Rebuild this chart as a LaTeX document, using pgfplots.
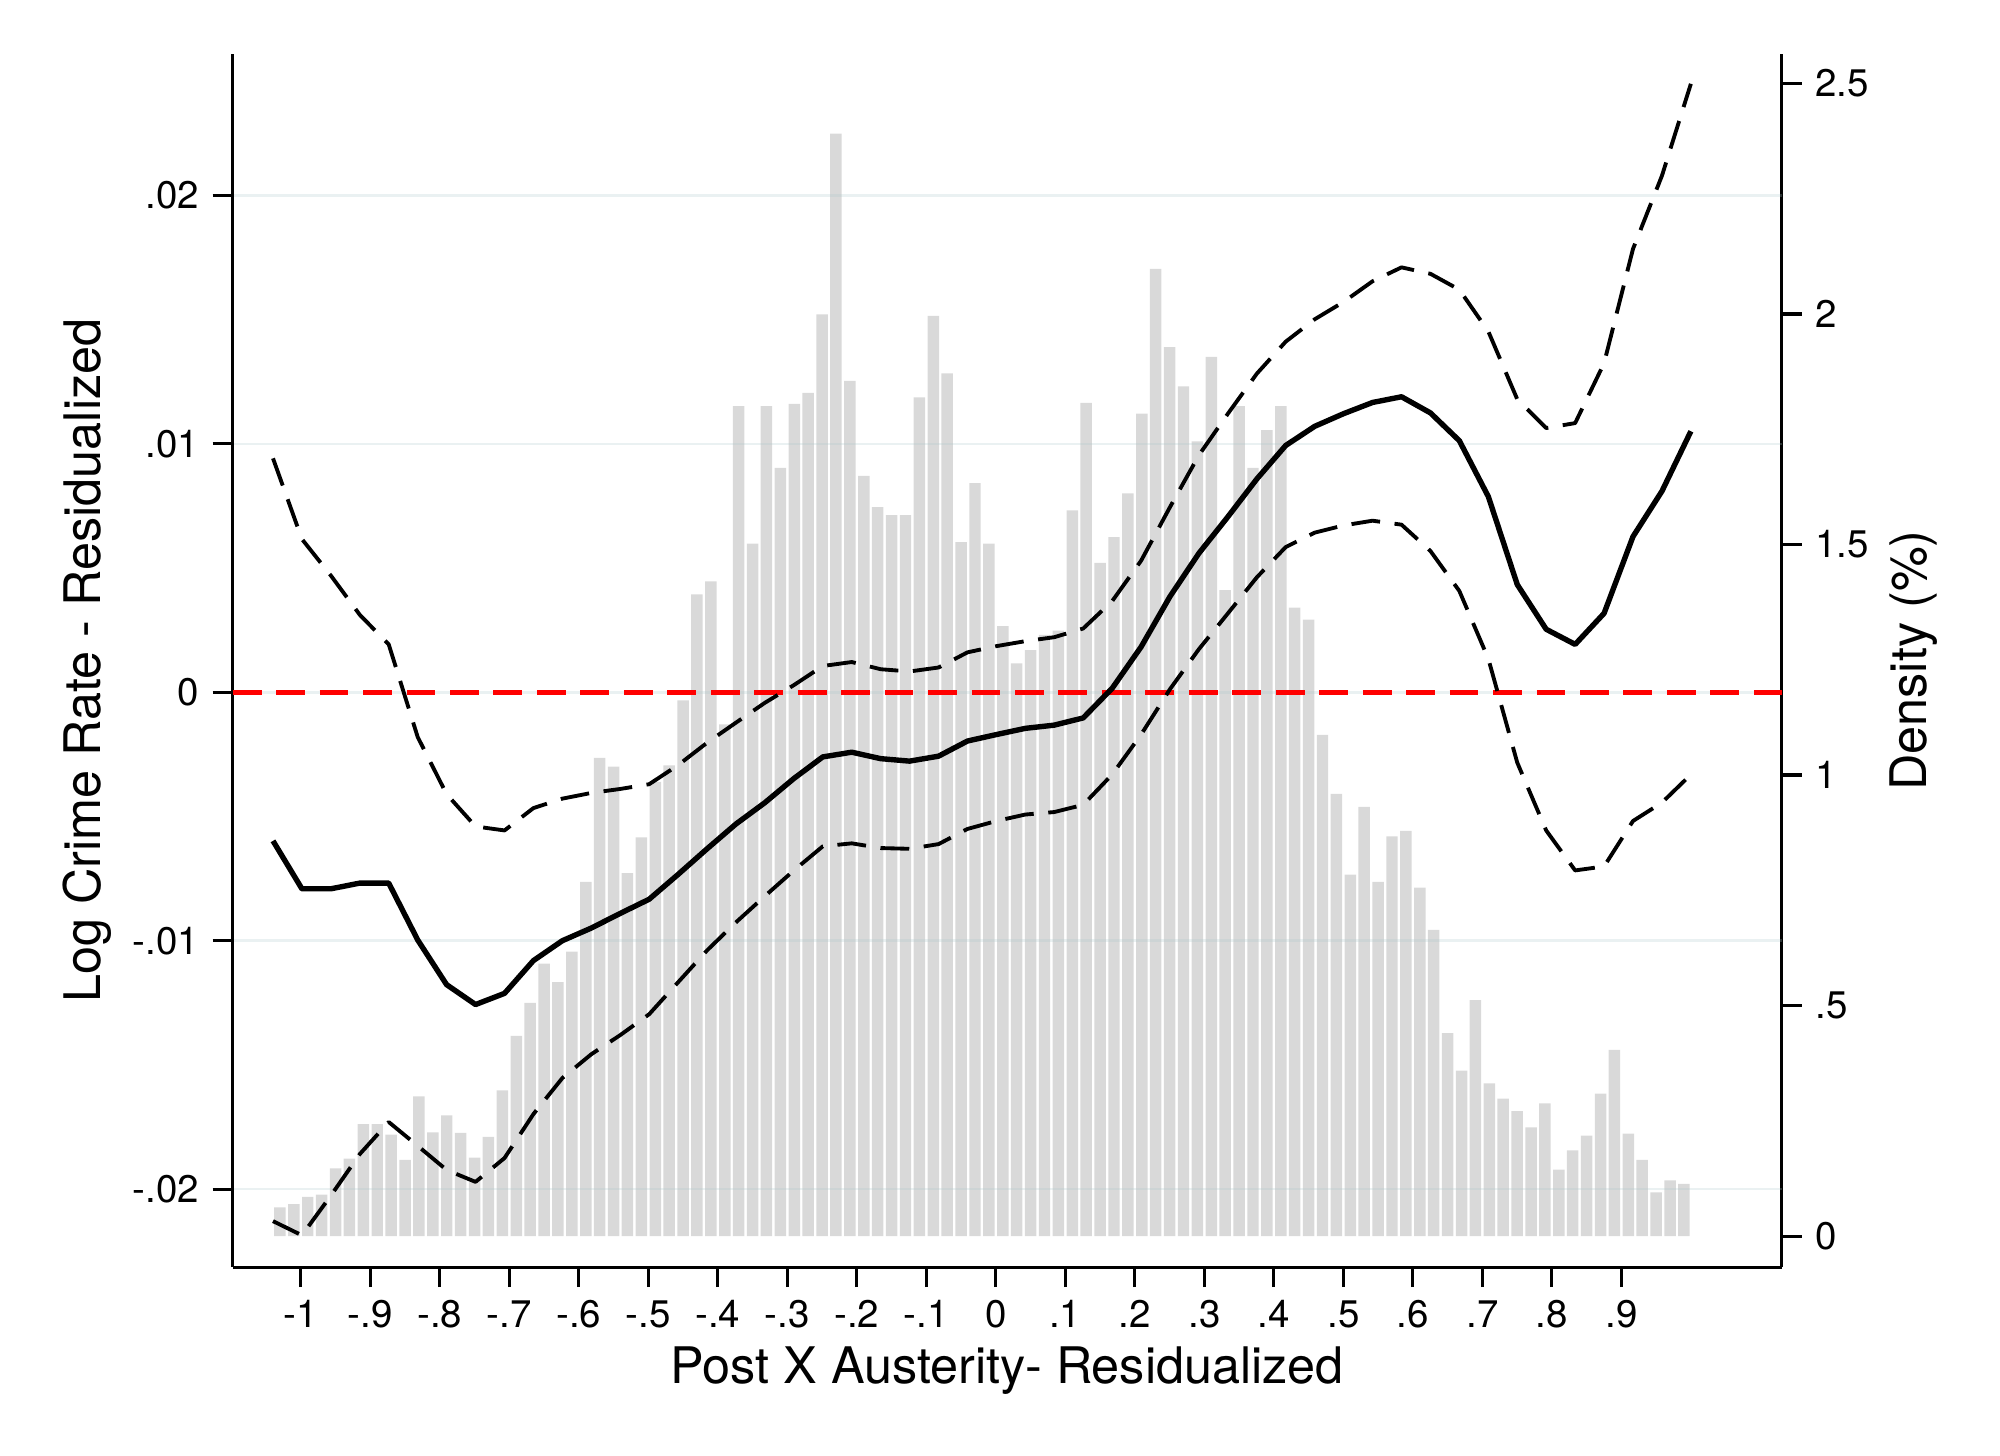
\documentclass[border=0pt]{standalone}
\usepackage{fontspec}
\setmainfont{TeX Gyre Heros}
\usepackage{pgfplots}
\usepackage{pgfplotstable}
\pgfplotsset{compat=1.18}
\definecolor{barcol}{RGB}{217,217,217}
\definecolor{gridcol}{RGB}{170,200,203}
\definecolor{stred}{RGB}{255,0,0}

\pgfplotstableread{
x d
-1.03 0.062
-1.01 0.069
-0.99 0.085
-0.97 0.090
-0.95 0.147
-0.93 0.168
-0.91 0.243
-0.89 0.243
-0.87 0.220
-0.85 0.165
-0.83 0.303
-0.81 0.225
-0.79 0.262
-0.77 0.224
-0.75 0.170
-0.73 0.215
-0.71 0.316
-0.69 0.434
-0.67 0.506
-0.65 0.591
-0.63 0.551
-0.61 0.617
-0.59 0.768
-0.57 1.037
-0.55 1.018
-0.53 0.787
-0.51 0.865
-0.49 0.985
-0.47 1.021
-0.45 1.162
-0.43 1.392
-0.41 1.420
-0.39 1.110
-0.37 1.800
-0.35 1.502
-0.33 1.800
-0.31 1.666
-0.29 1.805
-0.27 1.829
-0.25 1.999
-0.23 2.391
-0.21 1.855
-0.19 1.649
-0.17 1.581
-0.15 1.564
-0.13 1.564
-0.11 1.819
-0.09 1.996
-0.07 1.871
-0.05 1.505
-0.03 1.633
-0.01 1.502
0.01 1.323
0.03 1.242
0.05 1.271
0.07 1.304
0.09 1.313
0.11 1.574
0.13 1.807
0.15 1.460
0.17 1.516
0.19 1.611
0.21 1.784
0.23 2.098
0.25 1.928
0.27 1.843
0.29 1.724
0.31 1.907
0.33 1.401
0.35 1.800
0.37 1.666
0.39 1.748
0.41 1.800
0.43 1.363
0.45 1.337
0.47 1.087
0.49 0.959
0.51 0.784
0.53 0.931
0.55 0.768
0.57 0.867
0.59 0.879
0.61 0.756
0.63 0.664
0.65 0.440
0.67 0.359
0.69 0.512
0.71 0.331
0.73 0.298
0.75 0.271
0.77 0.236
0.79 0.288
0.81 0.144
0.83 0.186
0.85 0.218
0.87 0.309
0.89 0.404
0.91 0.222
0.93 0.165
0.95 0.095
0.97 0.121
0.99 0.113
}\hist

\pgfplotstableread{
x fit up lo
-1.0400 -0.00598 0.00942 -0.02129
-0.9984 -0.00791 0.00617 -0.02186
-0.9567 -0.00791 0.00470 -0.02026
-0.9151 -0.00768 0.00312 -0.01859
-0.8735 -0.00768 0.00193 -0.01730
-0.8318 -0.00997 -0.00180 -0.01826
-0.7902 -0.01177 -0.00410 -0.01923
-0.7486 -0.01257 -0.00540 -0.01971
-0.7069 -0.01212 -0.00556 -0.01875
-0.6653 -0.01080 -0.00466 -0.01698
-0.6237 -0.01000 -0.00428 -0.01553
-0.5820 -0.00949 -0.00405 -0.01457
-0.5404 -0.00890 -0.00389 -0.01380
-0.4988 -0.00833 -0.00370 -0.01296
-0.4571 -0.00733 -0.00293 -0.01167
-0.4155 -0.00630 -0.00203 -0.01039
-0.3739 -0.00530 -0.00122 -0.00926
-0.3322 -0.00444 -0.00042 -0.00820
-0.2906 -0.00347 0.00029 -0.00717
-0.2490 -0.00260 0.00106 -0.00620
-0.2073 -0.00241 0.00122 -0.00608
-0.1657 -0.00267 0.00093 -0.00627
-0.1241 -0.00277 0.00084 -0.00630
-0.0824 -0.00257 0.00100 -0.00611
-0.0408 -0.00196 0.00161 -0.00550
0.0008 -0.00170 0.00186 -0.00518
0.0424 -0.00145 0.00206 -0.00492
0.0841 -0.00132 0.00222 -0.00482
0.1257 -0.00103 0.00257 -0.00453
0.1673 0.00016 0.00367 -0.00331
0.2090 0.00183 0.00530 -0.00170
0.2506 0.00386 0.00746 0.00013
0.2922 0.00560 0.00955 0.00174
0.3339 0.00707 0.01122 0.00318
0.3755 0.00859 0.01283 0.00463
0.4171 0.00994 0.01412 0.00585
0.4588 0.01071 0.01502 0.00643
0.5004 0.01122 0.01572 0.00672
0.5420 0.01167 0.01655 0.00691
0.5837 0.01190 0.01711 0.00675
0.6253 0.01125 0.01685 0.00569
0.6669 0.01013 0.01621 0.00408
0.7086 0.00788 0.01453 0.00135
0.7502 0.00434 0.01180 -0.00283
0.7918 0.00254 0.01064 -0.00556
0.8335 0.00193 0.01084 -0.00717
0.8751 0.00318 0.01325 -0.00701
0.9167 0.00627 0.01785 -0.00518
0.9584 0.00810 0.02080 -0.00444
1.0000 0.01051 0.02450 -0.00331
}\fits

\begin{document}
\begin{tikzpicture}
\path[use as bounding box] (-60.5pt,-48.9pt) rectangle (459.5pt,329.44pt);
\pgfplotsset{
  common/.style={
    scale only axis, width=402.8pt, height=315.4pt,
    xmin=-1.098, xmax=1.131,
    tick align=outside,
    major tick length=5.2pt,
    scaled x ticks=false, scaled y ticks=false,
    axis line style={line width=0.8pt, black},
    major tick style={line width=0.8pt, black},
    tick label style={font=\fontsize{10}{12}\selectfont},
    label style={font=\fontsize{13.1}{15}\selectfont},
  }
}
% histogram on the right axis
\begin{axis}[common,
  ymin=-0.0673, ymax=2.564,
  axis x line=none, axis y line*=right,
  ytick={0,0.5,1,1.5,2,2.5},
  yticklabels={0,.5,1,1.5,2,2.5},
  ylabel={Density (\%)},
  ylabel style={at={(axis description cs:1.0936,0.5)}, anchor=base, rotate=0},
]
\addplot[ybar, bar width=0.0165, bar shift=0pt, fill=barcol, draw=none] table[x=x, y=d] {\hist};
\end{axis}
% lines on the left axis
\begin{axis}[common,
  ymin=-0.02314, ymax=0.0257,
  axis x line*=bottom, axis y line*=left,
  xtick={-1,-0.9,-0.8,-0.7,-0.6,-0.5,-0.4,-0.3,-0.2,-0.1,0,0.1,0.2,0.3,0.4,0.5,0.6,0.7,0.8,0.9},
  xticklabels={-1,-.9,-.8,-.7,-.6,-.5,-.4,-.3,-.2,-.1,0,.1,.2,.3,.4,.5,.6,.7,.8,.9},
  ytick={-0.02,-0.01,0,0.01,0.02},
  yticklabels={-.02,-.01,0,.01,.02},
  ymajorgrids,
  grid style={line width=0.7pt, gridcol, opacity=0.25},
  xlabel={Post X Austerity- Residualized},
  ylabel={Log Crime Rate - Residualized},
  xlabel style={at={(axis description cs:0.5,-0.0957)}, anchor=base},
  ylabel style={at={(axis description cs:-0.0853,0.5)}, anchor=base},
]
\addplot[stred, line width=1.4pt, dash pattern=on 7.5pt off 3.8pt] coordinates {(-1.098,0) (1.131,0)};
\addplot[black, line width=1.0pt, dash pattern=on 7.5pt off 3.8pt, line join=round] table[x=x, y=up] {\fits};
\addplot[black, line width=1.0pt, dash pattern=on 7.5pt off 3.8pt, line join=round] table[x=x, y=lo] {\fits};
\addplot[black, line width=1.4pt, line join=round] table[x=x, y=fit] {\fits};
\end{axis}
\end{tikzpicture}
\end{document}
